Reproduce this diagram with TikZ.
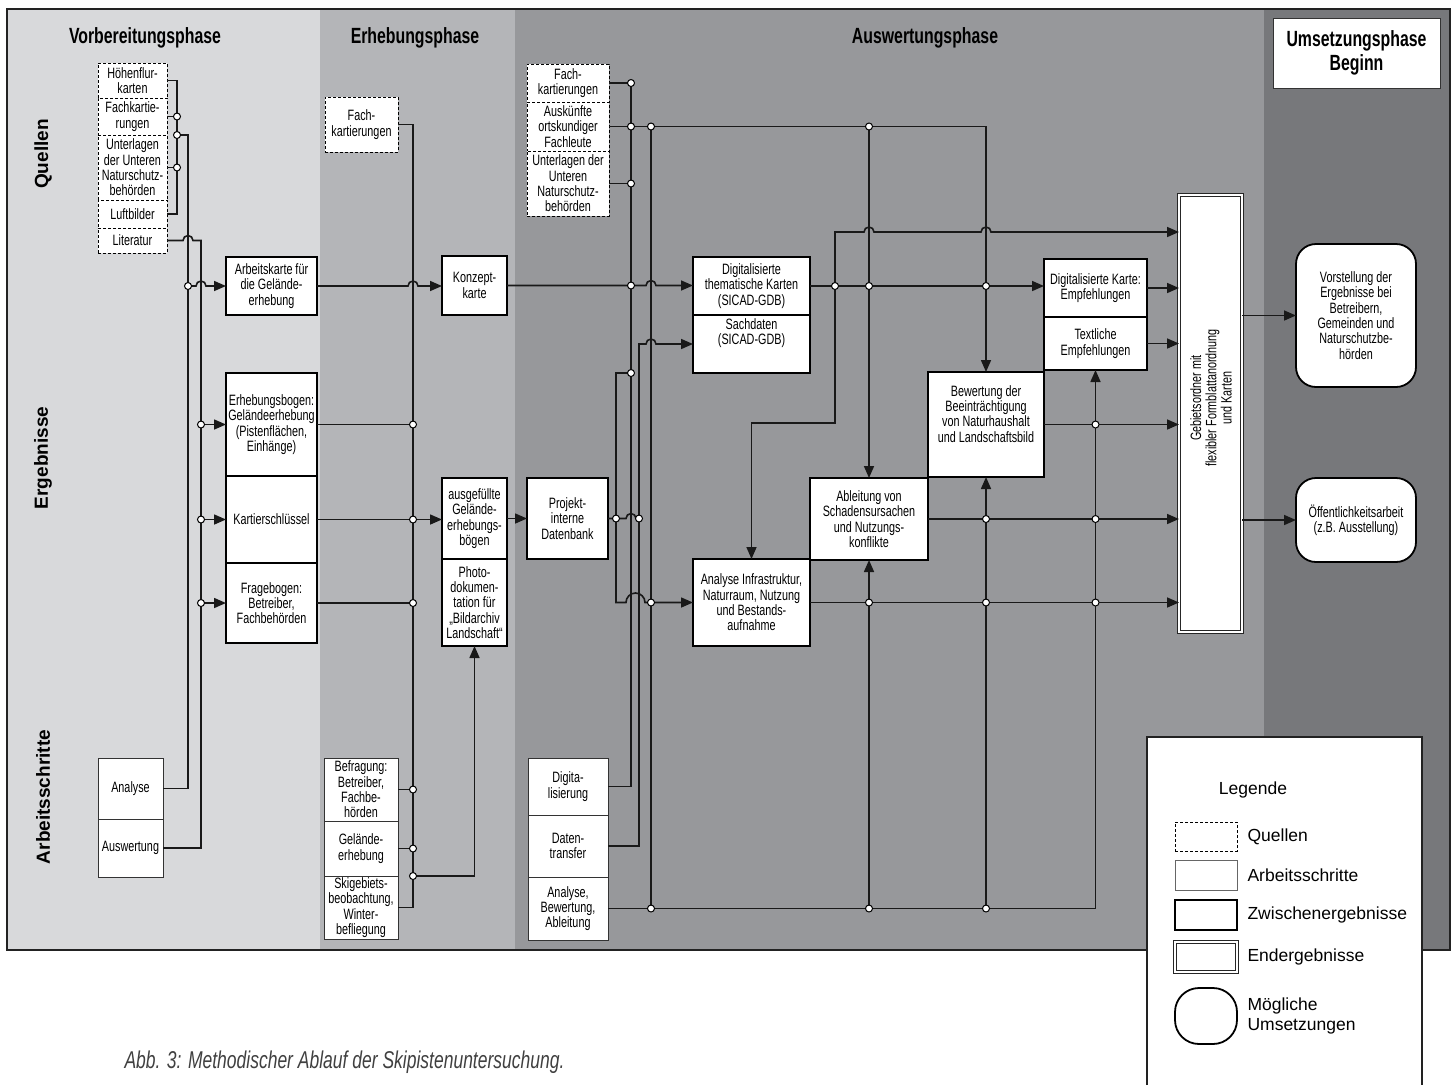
\documentclass[tikz,border=0pt]{standalone}
\usepackage{fontspec}
\setmainfont{Liberation Sans}[FakeStretch=0.72]
\newfontfamily\breitfont{Liberation Sans}
\usetikzlibrary{arrows.meta}

\definecolor{vorgrau}{HTML}{D8D9DB}
\definecolor{erhgrau}{HTML}{B4B5B8}
\definecolor{auswgrau}{HTML}{97989B}
\definecolor{umsgrau}{HTML}{77787B}
\definecolor{rahmen}{HTML}{222222}

% Bogen einer Leitung ueber eine senkrechte Leitung
\newcommand{\hop}[2]{-- ({#1-5},#2) arc[start angle=180,end angle=360,radius=5]}

\tikzset{
  kasten/.style={fill=white, align=center, anchor=north west, inner sep=1pt, outer sep=0pt, text=black},
  quelle/.style={kasten, draw=black, line width=0.9pt, dash pattern=on 3pt off 2pt},
  schritt/.style={kasten, draw=black!80, line width=0.9pt},
  zwischen/.style={kasten, draw=black, line width=1.8pt},
  ende/.style={kasten, draw=black!85, line width=0.7pt, double=white, double distance=2.5pt},
  umsetzung/.style={kasten, draw=black, line width=1.8pt, rounded corners=20pt},
  leitung/.style={draw=black!90, line width=1.6pt},
  pfeil/.style={leitung, -{Triangle[length=12pt,width=10pt]}},
  punkt/.style={draw=black, fill=white, line width=1pt},
  kopf/.style={font=\bfseries\fontsize{22}{24}\selectfont},
  zeile/.style={rotate=90, font=\breitfont\bfseries\fontsize{19}{22}\selectfont},
  legtext/.style={anchor=west, align=left, font=\breitfont\fontsize{17.5}{20}\selectfont}
}

\begin{document}
\begin{tikzpicture}[x=1pt, y=-1pt, font=\fontsize{15}{15.3}\selectfont]
\useasboundingbox (0,0) rectangle (1454,1085);

% Phasen
\fill[vorgrau] (7,9) rectangle (320,950);
\fill[erhgrau] (320,9) rectangle (515,950);
\fill[auswgrau] (515,9) rectangle (1264,950);
\fill[umsgrau] (1264,9) rectangle (1450,950);
\draw[line width=2.2pt, rahmen] (7,9) rectangle (1450,950);

\node[kopf] (vorkopf) at (145,38) {Vorbereitungsphase};
\node[kopf] (erhkopf) at (415,38) {Erhebungsphase};
\node[kopf] (auswkopf) at (925,38) {Auswertungsphase};
\node[kasten, draw=black!80, line width=1pt, minimum width=167, minimum height=70, kopf] (umskopf) at (1273,18) {Umsetzungsphase\\Beginn};

\node[zeile] (zquellen) at (43,154) {Quellen};
\node[zeile] (zergebnisse) at (43,458) {Ergebnisse};
\node[zeile] (zschritte) at (43,797) {Arbeitsschritte};

% Vorbereitungsphase
\node[quelle, minimum width=69, minimum height=35] (q1) at (98,63) {Höhenflur-\\karten};
\node[quelle, minimum width=69, minimum height=37] (q2) at (98,98) {Fachkartie-\\rungen};
\node[quelle, minimum width=69, minimum height=65] (q3) at (98,135) {Unterlagen\\der Unteren\\Naturschutz-\\behörden};
\node[quelle, minimum width=69, minimum height=28] (q4) at (98,200) {Luftbilder};
\node[quelle, minimum width=69, minimum height=25] (q5) at (98,228) {Literatur};
\node[zwischen, minimum width=91, minimum height=58] (arbeitskarte) at (226,257) {Arbeitskarte für\\die Gelände-\\erhebung};
\node[zwischen, minimum width=91, minimum height=103] (erhbogen) at (226,373) {Erhebungsbogen:\\Geländeerhebung\\(Pistenflächen,\\Einhänge)};
\node[zwischen, minimum width=91, minimum height=87] (kartier) at (226,476) {Kartierschlüssel};
\node[zwischen, minimum width=91, minimum height=80] (frage) at (226,563) {Fragebogen:\\Betreiber,\\Fachbehörden};
\node[schritt, minimum width=65, minimum height=61] (analyse) at (98,758) {Analyse};
\node[schritt, minimum width=65, minimum height=58] (auswert) at (98,819) {Auswertung};

% Erhebungsphase
\node[quelle, minimum width=73, minimum height=55] (q6) at (325,97) {Fach-\\kartierungen};
\node[zwischen, minimum width=65, minimum height=59] (konzept) at (442,256) {Konzept-\\karte};
\node[zwischen, minimum width=65, minimum height=81] (ausgef) at (442,478) {ausgefüllte\\Gelände-\\erhebungs-\\bögen};
\node[zwischen, minimum width=65, minimum height=87] (photo) at (442,559) {Photo-\\dokumen-\\tation für\\„Bildarchiv\\Landschaft“};
\node[schritt, minimum width=74, minimum height=63] (befrag) at (324,758) {Befragung:\\Betreiber,\\Fachbe-\\hörden};
\node[schritt, minimum width=74, minimum height=55] (gelaende) at (324,821) {Gelände-\\erhebung};
\node[schritt, minimum width=74, minimum height=63] (skigebiet) at (324,876) {Skigebiets-\\beobachtung,\\Winter-\\befliegung};

% Auswertungsphase
\node[quelle, minimum width=82, minimum height=38] (q7) at (527,64) {Fach-\\kartierungen};
\node[quelle, minimum width=82, minimum height=49] (q8) at (527,102) {Auskünfte\\ortskundiger\\Fachleute};
\node[quelle, minimum width=82, minimum height=65] (q9) at (527,151) {Unterlagen der\\Unteren\\Naturschutz-\\behörden};
\node[zwischen, minimum width=117, minimum height=58] (digkarten) at (693,257) {Digitalisierte\\thematische Karten\\(SICAD-GDB)};
\node[zwischen, minimum width=117, minimum height=58] (sach) at (693,315) {Sachdaten\\(SICAD-GDB)\\[10pt]};
\node[zwischen, minimum width=81, minimum height=81] (projekt) at (527,478) {Projekt-\\interne\\Datenbank};
\node[zwischen, minimum width=117, minimum height=87] (infra) at (693,559) {Analyse Infrastruktur,\\Naturraum, Nutzung\\und Bestands-\\aufnahme};
\node[zwischen, minimum width=118, minimum height=82] (ableitung) at (810,478) {Ableitung von\\Schadensursachen\\und Nutzungs-\\konflikte};
\node[zwischen, minimum width=116, minimum height=105] (bewertung) at (928,372) {Bewertung der\\Beeinträchtigung\\von Naturhaushalt\\und Landschaftsbild\\[6pt]};
\node[zwischen, minimum width=103, minimum height=58] (digempf) at (1044,259) {Digitalisierte Karte:\\Empfehlungen};
\node[zwischen, minimum width=103, minimum height=53] (textempf) at (1044,317) {Textliche\\Empfehlungen};
\node[schritt, minimum width=80, minimum height=57] (digital) at (528,758) {Digita-\\lisierung};
\node[schritt, minimum width=80, minimum height=62] (datentr) at (528,815) {Daten-\\transfer};
\node[schritt, minimum width=80, minimum height=63] (abw) at (528,877) {Analyse,\\Bewertung,\\Ableitung};
\node[ende, minimum width=63, minimum height=437] (gebiet) at (1179,195) {};
\node[rotate=90, align=center, inner sep=0pt] (gebiettext) at (1211,398) {Gebietsordner mit\\flexibler Formblattanordnung\\und Karten};

% Umsetzungsphase
\node[umsetzung, minimum width=120, minimum height=143] (vorstellung) at (1296,244) {Vorstellung der\\Ergebnisse bei\\Betreibern,\\Gemeinden und\\Naturschutzbe-\\hörden};
\node[umsetzung, minimum width=120, minimum height=84] (oeffentlich) at (1296,478) {Öffentlichkeitsarbeit\\(z.B. Ausstellung)};

% Sammelleitungen
\coordinate (bQ) at (177,0);
\coordinate (bA) at (188,0);
\coordinate (bL) at (201,0);
\coordinate (bE) at (413,0);
\coordinate (bD) at (616,0);
\coordinate (bF) at (631,0);
\coordinate (bS) at (639,0);
\coordinate (bC) at (651,0);
\coordinate (bK) at (835,0);

% Vorbereitungsphase
\draw[leitung] (q1.east) -| (bQ |- q4.east) -- (q4.east);
\draw[leitung] (q2.east) -- (bQ |- q2.east);
\draw[leitung] (q3.east) -- (bQ |- q3.east);
\draw[leitung] (bQ |- q3.north) -| (bA |- analyse.east) -- (analyse.east);
\draw[leitung] (q5.east) \hop{188}{240.5} -| (bL |- auswert.east) -- (auswert.east);
\draw[pfeil] (bA |- arbeitskarte.west) \hop{201}{286} -- (arbeitskarte.west);
\draw[pfeil] (bL |- erhbogen.west) -- (erhbogen.west);
\draw[pfeil] (bL |- kartier.west) -- (kartier.west);
\draw[pfeil] (bL |- frage.west) -- (frage.west);

% Erhebungsphase
\draw[leitung] (q6.east) -| (bE |- skigebiet.east) -- (skigebiet.east);
\draw[pfeil] (arbeitskarte.east) \hop{413}{286} -- (konzept.west |- arbeitskarte.east);
\draw[leitung] (erhbogen.east) -- (bE |- erhbogen.east);
\draw[pfeil] (kartier.east) -- (kartier.east -| ausgef.west);
\draw[leitung] (frage.east) -- (bE |- frage.east);
\draw[leitung] (befrag.east) -- (bE |- befrag.east);
\draw[leitung] (gelaende.east) -- (bE |- gelaende.east);
\draw[pfeil] (bE |- skigebiet.north) -| (photo.south);
\draw[pfeil] (ausgef.east) -- (projekt.west);

% Auswertungsphase
\draw[leitung] (q7.east) -| (bF |- digital.east) -- (digital.east);
\draw[leitung] (q9.east) -- (bF |- q9.east);
\draw[pfeil] (q8.east) -| (bewertung.north);
\draw[pfeil] (ableitung.north |- q8.east) -- (ableitung.north);
\draw[pfeil] (bC |- q8.east) |- (textempf.south |- abw.east) -- (textempf.south);
\draw[leitung] (abw.east) -- (bC |- abw.east);
\draw[pfeil] (konzept.east) \hop{651}{285.5} -- (digkarten.west |- konzept.east);
\draw[pfeil] (datentr.east) -| (bS |- sach.west) \hop{651}{344} -- (sach.west);
\draw[pfeil] (bF |- sach.south) -| (bD |- infra.west) -- (626,602.5) arc[start angle=180,end angle=360,radius=9.5] -- (infra.west);
\draw[leitung] (projekt.east) \hop{631}{518.5} -- (bS |- projekt.east);
\draw[pfeil] (digkarten.east) -- (digkarten.east -| digempf.west);
\draw[pfeil] (bK |- digkarten.east) -- (bK |- 0,232) \hop{869}{232} \hop{986}{232} -- (gebiet.west |- 0,232);
\draw[pfeil] (bK |- digkarten.east) |- (infra.north |- 0,423) -- (infra.north);
\draw[pfeil] (ableitung.south |- abw.east) -- (ableitung.south);
\draw[pfeil] (bewertung.south |- abw.east) -- (bewertung.south);
\draw[pfeil] (digempf.east) -- (digempf.east -| gebiet.west);
\draw[pfeil] (textempf.east) -- (textempf.east -| gebiet.west);
\draw[pfeil] (bewertung.east) -- (bewertung.east -| gebiet.west);
\draw[pfeil] (ableitung.east) -- (ableitung.east -| gebiet.west);
\draw[pfeil] (infra.east) -- (infra.east -| gebiet.west);
\draw[pfeil] (gebiet.east |- vorstellung.west) -- (vorstellung.west);
\draw[pfeil] (gebiet.east |- oeffentlich.west) -- (oeffentlich.west);

% Verknuepfungspunkte
\foreach \p in {bQ |- q2.east, bQ |- q3.east, bQ |- q3.north, bA |- arbeitskarte.west,
  bL |- erhbogen.west, bL |- kartier.west, bL |- frage.west,
  bE |- erhbogen.east, bE |- kartier.east, bE |- frage.east, bE |- befrag.east,
  bE |- gelaende.east, bE |- skigebiet.north,
  bF |- q7.east, bF |- q8.east, bC |- q8.east, bF |- q9.east, ableitung.north |- q8.east,
  bF |- konzept.east, bK |- digkarten.east, ableitung.north |- digkarten.east,
  bewertung.north |- digkarten.east, bF |- sach.south, bD |- projekt.east, bS |- projekt.east,
  bC |- infra.west, ableitung.north |- infra.east, bewertung.north |- infra.east,
  textempf.south |- infra.east, bewertung.north |- ableitung.east, textempf.south |- ableitung.east,
  textempf.south |- bewertung.east, bC |- abw.east, ableitung.south |- abw.east,
  bewertung.south |- abw.east}
  \draw[punkt] (\p) circle (3.5);

% Legende
\fill[white] (1147,737) rectangle (1422,1085);
\draw[line width=1.2pt, rahmen] (1147,1085) -- (1147,737) -- (1422,737) -- (1422,1085);
\node[legtext, anchor=center] (legende) at (1253,790) {Legende};
\node[quelle, minimum width=62, minimum height=29] (lquelle) at (1175,822) {};
\node[schritt, draw=black!60, minimum width=62, minimum height=30] (lschritt) at (1175,860) {};
\node[zwischen, minimum width=62, minimum height=30] (lzwischen) at (1175,900) {};
\node[ende, minimum width=62, minimum height=30] (lende) at (1175,942) {};
\node[umsetzung, rounded corners=24pt, minimum width=62, minimum height=56] (lumsetz) at (1175,988) {};
\node[legtext] (tquelle) at (1244,836.5) {Quellen};
\node[legtext] (tschritt) at (1244,875) {Arbeitsschritte};
\node[legtext] (tzwischen) at (1244,915) {Zwischenergebnisse};
\node[legtext] (tende) at (1244,957) {Endergebnisse};
\node[legtext] (tumsetz) at (1244,1016) {Mögliche\\Umsetzungen};

\node[anchor=west, font=\itshape\fontsize{24.3}{27}\selectfont, text=black!75] (unterschrift) at (121,1062) {Abb. 3: Methodischer Ablauf der Skipistenuntersuchung.};
\end{tikzpicture}
\end{document}
